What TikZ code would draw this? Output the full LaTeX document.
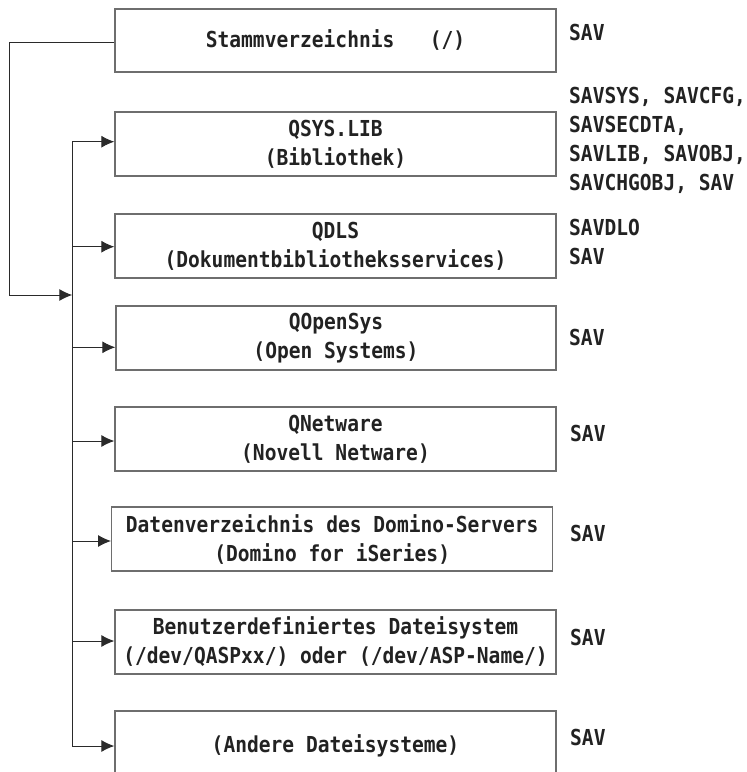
\documentclass[tikz,border=0pt]{standalone}
\usepackage{fontspec}
\newfontfamily\lgfont[FakeStretch=0.89]{DejaVu Sans Mono}
\usetikzlibrary{arrows.meta}

\definecolor{boxgray}{HTML}{6E6E6E}
\definecolor{linegray}{HTML}{2A2A2A}
\definecolor{txtgray}{HTML}{222222}

\tikzset{
    fsbox/.style={draw=boxgray, line width=1.3pt, inner sep=0pt, align=center,
        minimum width=441pt, minimum height=64pt, text=txtgray,
        font=\lgfont\bfseries\fontsize{22}{29}\selectfont},
    cmdlabel/.style={anchor=base west, inner sep=0pt, align=left, text=txtgray,
        font=\lgfont\bfseries\fontsize{22}{29}\selectfont},
    arr/.style={draw=linegray, line width=1pt, -{Latex[length=13pt,width=12pt]}}
}

\begin{document}
\begin{tikzpicture}[x=1pt, y=-1pt]
    \useasboundingbox (0,0) rectangle (747,772);

    % Boxes
    \node[fsbox, minimum height=63pt] (stamm) at (335.5,40.5) {Stammverzeichnis~~~(/)};
    \node[fsbox] (qsys) at (335.5,144) {QSYS.LIB\\(Bibliothek)};
    \node[fsbox] (qdls) at (335.5,246) {QDLS\\(Dokumentbibliotheksservices)};
    \node[fsbox, minimum width=440pt] (qopensys) at (336,338) {QOpenSys\\(Open Systems)};
    \node[fsbox] (qnetware) at (335.5,439) {QNetware\\(Novell Netware)};
    \node[fsbox] (domino) at (332.2,539) {Datenverzeichnis des Domino-Servers\\(Domino for iSeries)};
    \node[fsbox] (benutzer) at (335.5,642) {Benutzerdefiniertes Dateisystem\\(/dev/QASPxx/) oder (/dev/ASP-Name/)};
    \node[fsbox, minimum height=70pt] (andere) at (335.5,746) {(Andere Dateisysteme)};

    % Save commands (base = last line)
    \node[cmdlabel] (savstamm) at (569,40.7) {SAV};
    \node[cmdlabel] (savqsys) at (569,190) {SAVSYS, SAVCFG,\\SAVSECDTA,\\SAVLIB, SAVOBJ,\\SAVCHGOBJ, SAV};
    \node[cmdlabel] (savqdls) at (569,264) {SAVDLO\\SAV};
    \node[cmdlabel] (savopen) at (569,345) {SAV};
    \node[cmdlabel] (savnet) at (570,441) {SAV};
    \node[cmdlabel] (savdom) at (570,541.7) {SAV};
    \node[cmdlabel] (savudfs) at (570,645) {SAV};
    \node[cmdlabel] (savother) at (570,745) {SAV};

    % Trunk
    \coordinate (root) at (72.3,295);
    \coordinate (ttop) at (72.3,141.7);
    \coordinate (tbot) at (72.3,746);
    \draw[linegray, line width=1pt] (ttop) -- (tbot);

    % Root to trunk
    \draw[arr] ([yshift=-2pt]stamm.west) -| (9.3,295) -- (root);

    % Branches
    \foreach \n/\y in {qsys/141.7, qdls/246.7, qopensys/347.3, qnetware/441,
                       domino/541, benutzer/641, andere/746}
        \draw[arr] (72.3,\y) -- (\n.west |- 0,\y);
\end{tikzpicture}
\end{document}
